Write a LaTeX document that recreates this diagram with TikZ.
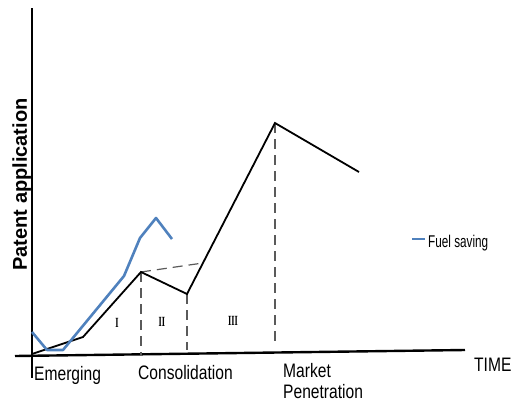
\documentclass[tikz,border=0pt]{standalone}
\usepackage{fontspec}
\setmainfont{Liberation Sans}
\newfontfamily\condfont[FakeStretch=0.8]{Liberation Sans}
\newfontfamily\legfont[FakeStretch=0.69]{Liberation Sans}
\newfontfamily\romfont[FakeStretch=0.6]{Liberation Serif}
\definecolor{fuelblue}{RGB}{79,129,189}
\definecolor{dashgray}{RGB}{90,90,90}
\tikzset{
  axisline/.style={line width=2.4pt, black},
  curve/.style={line width=1.8pt, black, line join=miter},
  fuel/.style={line width=2.6pt, fuelblue, line join=round},
  guide/.style={line width=1.2pt, dashgray, dash pattern=on 10pt off 6pt},
  lbl/.style={inner sep=0pt, anchor=base west, font=\condfont\fontsize{19.5}{21}\selectfont},
  rom/.style={inner sep=0pt, font=\romfont\bfseries\fontsize{14}{14}\selectfont},
}
\begin{document}
\begin{tikzpicture}[x=1pt,y=-1pt]
\useasboundingbox (0,0) rectangle (515,405);
% axes
\coordinate (ytop) at (32,8);
\coordinate (ybot) at (32,378);
\coordinate (xl) at (15,356);
\coordinate (xr) at (465,350);
\draw[axisline] (ytop) -- (ybot);
\draw[axisline] (xl) -- (xr);
% black curve
\coordinate (b0) at (32,354);
\coordinate (b1) at (83,337);
\coordinate (b2) at (141,272);
\coordinate (b3) at (187,294);
\coordinate (b4) at (275,123);
\coordinate (b5) at (359,172);
\coordinate (dEnd) at (203,263);
\coordinate (v1) at (141,355);
\coordinate (v2) at (187,350);
\coordinate (v3) at (275,345);
\draw[guide] (b2) -- (dEnd);
\draw[guide] (b2) -- (v1);
\draw[guide] (b3) -- (v2);
\draw[guide] (b4) -- (v3);
\draw[curve] (b0) -- (b1) -- (b2) -- (b3) -- (b4) -- (b5);
% blue curve
\coordinate (f0) at (32,332);
\coordinate (f1) at (47,350);
\coordinate (f2) at (63,350);
\coordinate (f3) at (124,276);
\coordinate (f4) at (140,238);
\coordinate (f5) at (156,218);
\coordinate (f6) at (172,239);
\draw[fuel] (f0) -- (f1) -- (f2) -- (f3) -- (f4) -- (f5) -- (f6);
% phase numerals
\node[rom] (r1) at (117,323) {I};
\node[rom] (r2) at (162,322) {II};
\node[rom] (r3) at (233,321) {III};
% axis labels
\node[inner sep=0pt, anchor=base, rotate=90, font=\bfseries\fontsize{20}{20}\selectfont] (ylab) at (27,184.5) {Patent application};
\node[lbl] (emerg) at (34,380) {Emerging};
\node[lbl] (consol) at (138,379) {Consolidation};
\node[lbl] (market) at (283,377) {Market};
\node[lbl] (penet) at (283,398) {Penetration};
\node[lbl] (time) at (474,371) {TIME};
% legend
\coordinate (lg0) at (412,239);
\coordinate (lg1) at (425,239);
\draw[fuel, line cap=butt] (lg0) -- (lg1);
\node[inner sep=0pt, anchor=base west, font=\legfont\fontsize{17}{17}\selectfont] (leg) at (428,247) {Fuel saving};
\end{tikzpicture}
\end{document}
